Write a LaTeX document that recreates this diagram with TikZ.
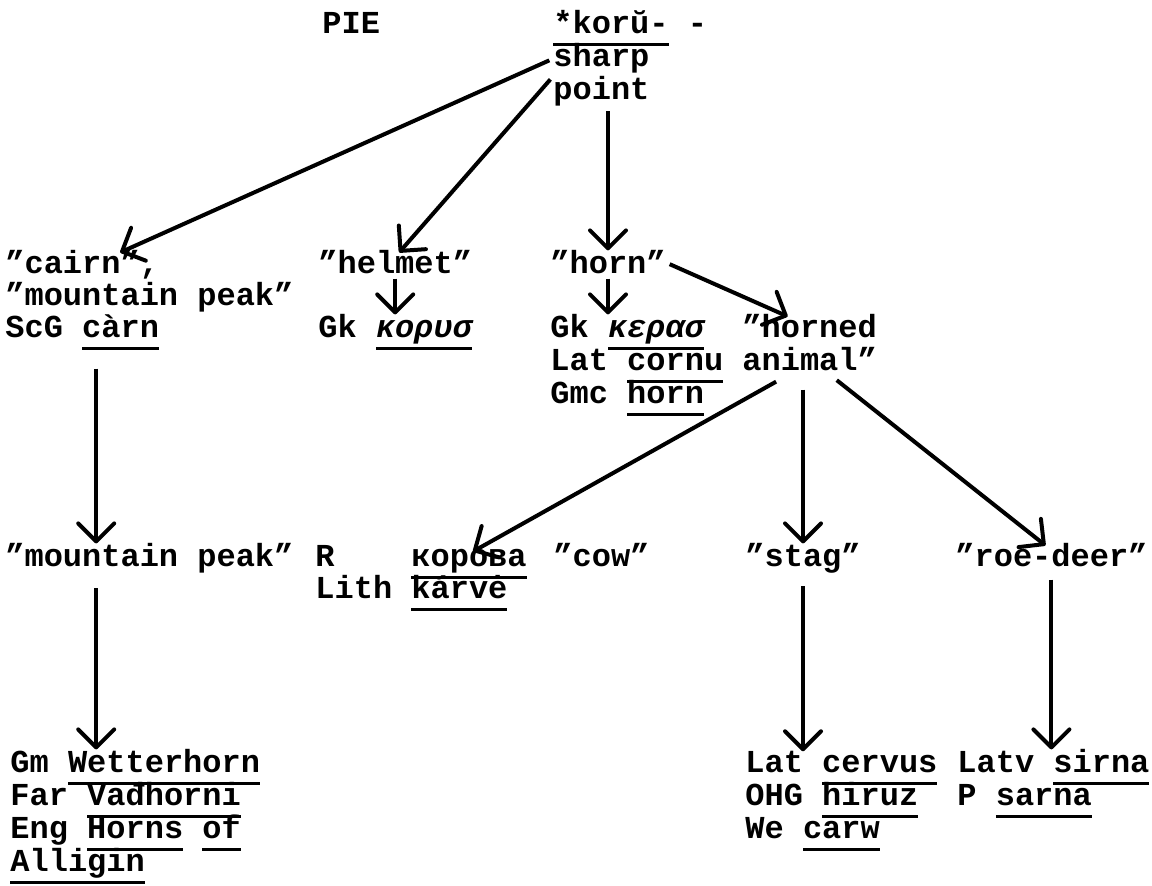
\documentclass[tikz,border=0pt]{standalone}
\usepackage{fontspec}
\setmainfont{Liberation Mono}
\usetikzlibrary{arrows.meta, calc}
\newsavebox{\ulbox}
\newcommand{\undl}[1]{\sbox{\ulbox}{#1}\rlap{\smash{\rule[-5.9pt]{\wd\ulbox}{1.4pt}}}\usebox{\ulbox}}
\frenchspacing

\begin{document}
\begin{tikzpicture}[x=0.5pt, y=-0.5pt,
    w/.style={anchor=base west, inner sep=0pt,
      font=\fontsize{16pt}{17pt}\selectfont\bfseries},
    arr/.style={line width=2pt, shorten <=2pt,
      -{Straight Barb[length=9pt, width=18pt, round]}}]
  \useasboundingbox (0,0) rectangle (1152,886);
  % root
  \node[w] (pie) at (322,34) {PIE};
  \node[w] (root) at (553,34) {\undl{*korŭ-} -};
  \node[w] (sharp) at (553,67) {sharp};
  \node[w] (point) at (553,100) {point};
  % first split
  \node[w] (cairn) at (5,274) {"cairn",};
  \node[w] (peak) at (5,306) {"mountain peak"};
  \node[w] (scg) at (5,338) {ScG \undl{càrn}};
  \node[w] (helmet) at (318,274) {"helmet"};
  \node[w] (gkhelm) at (318,338) {Gk \undl{\itshape κορυσ}};
  \node[w] (horn) at (550,274) {"horn"};
  \node[w] (gkhorn) at (550,338) {Gk \undl{\itshape κερασ}};
  \node[w] (lat) at (550,371) {Lat \undl{cornu}};
  \node[w] (gmc) at (550,404) {Gmc \undl{horn}};
  \node[w] (horned) at (742,338) {"horned};
  \node[w] (animal) at (742,371) {animal"};
  \draw[arr] (sharp.west) -- ($(cairn.north)+(38,2)$);
  \draw[arr] (point.north west) -- ($(helmet.north)+(4,2)$);
  \draw[arr] (horn.north |- point.south) -- (horn.north);
  \draw[arr] (helmet.south) -- (helmet.south |- gkhelm.north);
  \draw[arr] (horn.south) -- (horn.south |- gkhorn.north);
  \draw[arr] (horn.east) -- ($(horned.north)+(-22,2)$);
  % animals
  \node[w] (mtn) at (5,567) {"mountain peak"};
  \node[w] (rus) at (315,567) {R~~~~\undl{корова}};
  \node[w] (lith) at (315,599) {Lith \undl{kárvė}};
  \node[w] (cow) at (553,567) {"cow"};
  \node[w] (stag) at (745,567) {"stag"};
  \node[w] (roe) at (955,567) {"roe-deer"};
  \draw[arr] ([xshift=7pt,yshift=-13pt]scg.south) -- ([xshift=7pt]scg.south |- mtn.north);
  \draw[arr] ($(animal.south)+(-30,8)$) -- ($(rus.north)+(52,6)$);
  \draw[arr] ([yshift=-7pt]animal.south -| stag.north) -- (stag.north);
  \draw[arr] ($(animal.south)+(24,6)$) -- ($(roe.north)+(-6,2)$);
  % place names
  \node[w] (gm) at (10,773) {Gm \undl{Wetterhorn}};
  \node[w] (far) at (10,806) {Far \undl{Vađhorni}};
  \node[w] (eng) at (10,839) {Eng \undl{Horns} \undl{of}};
  \node[w] (all) at (10,872) {\undl{Alligin}};
  \node[w] (lat1) at (745,773) {Lat \undl{cervus}};
  \node[w] (ohg) at (745,806) {OHG \undl{hiruz}};
  \node[w] (we) at (745,839) {We \undl{carw}};
  \node[w] (latv) at (957,773) {Latv \undl{sirna}};
  \node[w] (pol) at (957,806) {P \undl{sarna}};
  \draw[arr] ([xshift=7pt,yshift=-5pt]scg.south |- mtn.south) -- ([xshift=7pt]scg.south |- gm.north);
  \draw[arr] ([yshift=-4pt]stag.south) -- (stag.south |- lat1.north);
  \draw[arr] ([yshift=-4pt]roe.south) -- (roe.south |- latv.north);
\end{tikzpicture}
\end{document}
